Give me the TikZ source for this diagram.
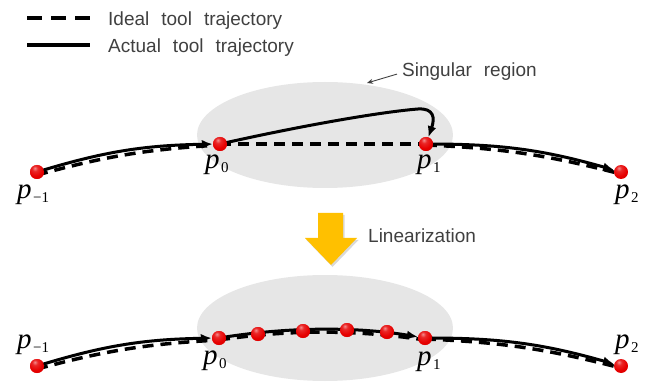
\documentclass[tikz,border=0pt]{standalone}
\usepackage{fontspec}
\setmainfont{Liberation Sans}
\newfontfamily\seriffont{Liberation Serif}
\usetikzlibrary{arrows.meta,shadows,shapes.geometric}

\definecolor{regiongray}{HTML}{E6E6E6}
\definecolor{arrowgold}{HTML}{FFC000}
\definecolor{txtgray}{HTML}{404040}
\definecolor{ballred}{HTML}{E60000}
\definecolor{balldark}{HTML}{9E0000}

% glossy red sphere
\pgfdeclareradialshading{redsphere}{\pgfpoint{-8bp}{14bp}}{%
  color(0bp)=(white!55!ballred);
  color(10bp)=(white!15!ballred);
  color(26bp)=(ballred);
  color(44bp)=(ballred!80!balldark);
  color(52bp)=(balldark);
  color(100bp)=(balldark)}

% caption font with wide word spacing
\newcommand{\captionfont}{\fontsize{19}{22}\selectfont\spaceskip=12pt\relax}
% point label: large italic p with a small upright index
\newcommand{\plabel}[1]{{\seriffont\fontsize{29}{30}\selectfont\itshape p}\kern1.5pt\raisebox{-4pt}{\seriffont\fontsize{15}{16}\selectfont #1}}

\begin{document}
\begin{tikzpicture}[x=1pt,y=1pt,
  txt/.style={font=\captionfont, text=txtgray, inner sep=0pt, anchor=base west},
  lbl/.style={inner sep=0pt, anchor=base west},
  ball/.style={circle, minimum size=14pt, inner sep=0pt, shading=redsphere},
  region/.style={ellipse, fill=regiongray, minimum width=256pt, minimum height=106pt, inner sep=0pt},
  actual/.style={line width=3pt, black, -{Latex[length=11pt,width=9pt]}},
  ideal/.style={line width=3.5pt, black, dash pattern=on 11pt off 7pt},
  pointer/.style={line width=0.9pt, txtgray, -{Stealth[length=6pt,width=5pt]}}
]
\useasboundingbox (0,0) rectangle (656,-382);

% legend
\draw[line width=4pt, dash pattern=on 15pt off 9pt] (27,-18) -- (90,-18);
\draw[line width=3.5pt] (27,-45) -- (90,-45);
\node[txt] (legideal) at (108,-26) {Ideal tool trajectory};
\node[txt] (legactual) at (108,-53) {Actual tool trajectory};

% singular regions
\node[region] (singtop) at (325,-135) {};
\node[region] (singbot) at (325,-328) {};

% ---------- upper trajectory ----------
\coordinate (cpm1) at (37,-172);
\coordinate (cp0) at (220,-144);
\coordinate (cp1) at (426,-144);
\coordinate (cp2) at (621,-172);

\draw[ideal] ([yshift=-3pt]cpm1) to[bend left=6] ([yshift=-1pt]cp0);
\draw[ideal] (cp0) -- (cp1);
\draw[ideal] ([yshift=-1pt]cp1) to[bend left=6] ([yshift=-2pt]cp2);

\node[ball] (pm1) at (cpm1) {};
\node[ball] (p0) at (cp0) {};
\node[ball] (p1) at (cp1) {};
\node[ball] (p2) at (cp2) {};

\draw[actual] (pm1.center) to[bend left=8] (p0);
\draw[actual] (p0.center) .. controls (300,-126) and (380,-112) .. (418,-109)
  .. controls (434,-108) and (435,-118) .. (p1);
\draw[actual] (p1.center) to[bend left=8] (p2);
\node[ball] at (p0.center) {};
\node[ball] at (p1.center) {};
\node[ball] at (pm1.center) {};

\node[lbl] (lpm1) at (17,-199) {\plabel{−1}};
\node[lbl] (lp0) at (205,-169) {\plabel{0}};
\node[lbl] (lp1) at (417,-169) {\plabel{1}};
\node[lbl] (lp2) at (615,-199) {\plabel{2}};

% pointer to the singular region
\node[txt] (sr) at (402,-77) {Singular region};
\coordinate (srtip) at (367,-83);
\draw[pointer] ([xshift=-5pt,yshift=-2pt]sr.west) -- (srtip);

% ---------- linearization step ----------
\fill[arrowgold, drop shadow={opacity=0.3, shadow xshift=1.5pt, shadow yshift=-2pt}]
  (318,-213) -- (343,-213) -- (343,-238) -- (357,-238) -- (331,-265)
  -- (305,-238) -- (318,-238) -- cycle;
\node[txt] (lin) at (368,-243) {Linearization};

% ---------- lower trajectory ----------
\coordinate (cbm1) at (37,-366);
\coordinate (cb0) at (219,-338);
\coordinate (cb1) at (425,-338);
\coordinate (cb2) at (621,-366);

\draw[ideal] ([yshift=-3pt]cbm1) to[bend left=6] ([yshift=-2pt]cb0);
\draw[ideal] ([yshift=-2pt]cb0) .. controls (288,-329.5) and (356,-329.5) .. ([yshift=-2pt]cb1);
\draw[ideal] ([yshift=-1pt]cb1) to[bend left=6] ([yshift=-2pt]cb2);

\node[ball] (bm1) at (cbm1) {};
\node[ball] (b0) at (cb0) {};
\node[ball] (q1) at (258,-334) {};
\node[ball] (q2) at (303,-331) {};
\node[ball] (q3) at (347,-330) {};
\node[ball] (q4) at (387,-332) {};
\node[ball] (b1) at (cb1) {};
\node[ball] (b2) at (cb2) {};

\draw[actual] (bm1.center) to[bend left=8] (b0);
\draw[actual] (b0.center) .. controls (288,-326.7) and (356,-326.7) .. (b1);
\draw[actual] (b1.center) to[bend left=8] (b2);
\foreach \n in {bm1,b0,q1,q2,q3,q4,b1} \node[ball] at (\n.center) {};

\node[lbl] (lbm1) at (17,-348) {\plabel{−1}};
\node[lbl] (lb0) at (203,-364) {\plabel{0}};
\node[lbl] (lb1) at (417,-365) {\plabel{1}};
\node[lbl] (lb2) at (615,-348) {\plabel{2}};
\end{tikzpicture}
\end{document}
